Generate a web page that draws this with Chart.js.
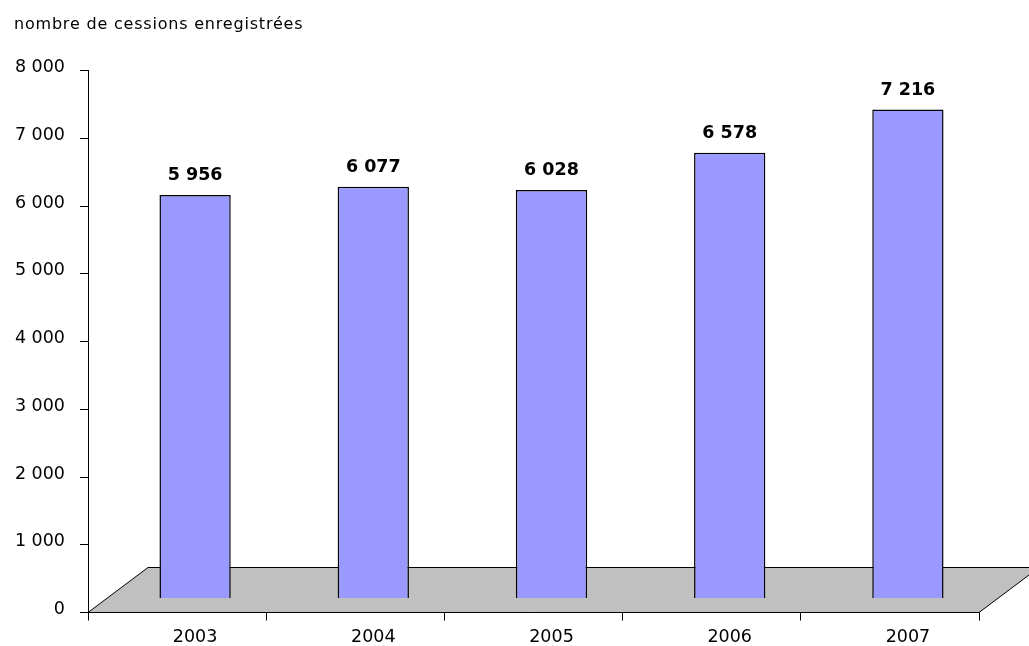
<!DOCTYPE html>
<html>
<head>
<meta charset="utf-8">
<script src="https://cdn.jsdelivr.net/npm/chart.js@4/dist/chart.umd.min.js"></script>
<style>
html,body{margin:0;padding:0;background:#fff;}
#wrap{width:1029px;height:646px;position:relative;}
</style>
</head>
<body>
<div id="wrap"><canvas id="c" width="1029" height="646"></canvas></div>
<script>
const titleText = "nombre de cessions enregistrées";
const categories = ["2003", "2004", "2005", "2006", "2007"];
const cessions = [5956, 6077, 6028, 6578, 7216];
const yTicks = [0, 1000, 2000, 3000, 4000, 5000, 6000, 7000, 8000];

const FONT = "'DejaVu Sans', Verdana, sans-serif";
const DEPTH_X = 60, DEPTH_Y = -45;   // 3D floor depth
const BAR_DX = 18, BAR_DY = -14;     // bars drawn at partial depth

function fmt(v){ return String(v).replace(/\B(?=(\d{3})+(?!\d))/g, " "); }

const floorPlugin = {
  id: 'floor3d',
  beforeDatasetsDraw(chart) {
    const ctx = chart.ctx, a = chart.chartArea;
    const y0 = chart.scales.y.getPixelForValue(0);
    ctx.save();
    ctx.beginPath();
    ctx.moveTo(a.left, y0);
    ctx.lineTo(a.right, y0);
    ctx.lineTo(a.right + DEPTH_X, y0 + DEPTH_Y);
    ctx.lineTo(a.left + DEPTH_X, y0 + DEPTH_Y);
    ctx.closePath();
    ctx.fillStyle = '#c0c0c0';
    ctx.fill();
    ctx.lineWidth = 1;
    ctx.strokeStyle = '#000';
    ctx.stroke();
    ctx.restore();
    ctx.save();
    ctx.translate(BAR_DX, BAR_DY);
  },
  afterDatasetsDraw(chart) {
    const ctx = chart.ctx;
    ctx.restore();
    const meta = chart.getDatasetMeta(0);
    ctx.save();
    ctx.font = "bold 17.5px " + FONT;
    ctx.fillStyle = '#000';
    ctx.textAlign = 'center';
    ctx.textBaseline = 'middle';
    meta.data.forEach((bar, i) => {
      ctx.fillText(fmt(cessions[i]), bar.x + BAR_DX, bar.y + BAR_DY - 19.5);
    });
    ctx.restore();
  },
  afterDraw(chart) {
    const ctx = chart.ctx;
    ctx.save();
    ctx.font = "16px " + FONT;
    if ('letterSpacing' in ctx) ctx.letterSpacing = '0.8px';
    ctx.fillStyle = '#000';
    ctx.textAlign = 'left';
    ctx.textBaseline = 'alphabetic';
    ctx.fillText(titleText, 14, 28.5);
    ctx.restore();
  }
};

new Chart(document.getElementById('c'), {
  type: 'bar',
  data: {
    labels: categories,
    datasets: [{
      data: cessions,
      backgroundColor: '#9999ff',
      borderColor: '#000',
      borderWidth: 1.5,
      barPercentage: 0.4,
      categoryPercentage: 1.0,
      clip: false
    }]
  },
  options: {
    responsive: false,
    animation: false,
    devicePixelRatio: 1,
    layout: { padding: { top: 70.5, right: 50, left: 0, bottom: 0 } },
    plugins: { legend: { display: false }, tooltip: { enabled: false }, title: { display: false } },
    scales: {
      x: {
        offset: true,
        grid: { display: true, offset: true, drawOnChartArea: false, drawTicks: true, tickLength: 8, color: '#000', lineWidth: 1 },
        border: { display: true, color: '#000', width: 1 },
        ticks: { color: '#000', font: { family: FONT, size: 17.5 }, padding: 6, labelOffset: BAR_DX, maxRotation: 0 },
        afterFit(s) { s.height = 33.5; }
      },
      y: {
        min: 0, max: 8000,
        afterBuildTicks(s) { s.ticks = yTicks.map(v => ({ value: v })); },
        grid: { display: true, drawOnChartArea: false, drawTicks: true, tickLength: 8, color: '#000', lineWidth: 1 },
        border: { display: true, color: '#000', width: 1 },
        ticks: { color: '#000', font: { family: FONT, size: 17.5 }, padding: 15, labelOffset: -3, callback: v => fmt(v) },
        afterFit(s) { s.width = 88; }
      }
    }
  },
  plugins: [floorPlugin]
});
</script>
</body>
</html>
